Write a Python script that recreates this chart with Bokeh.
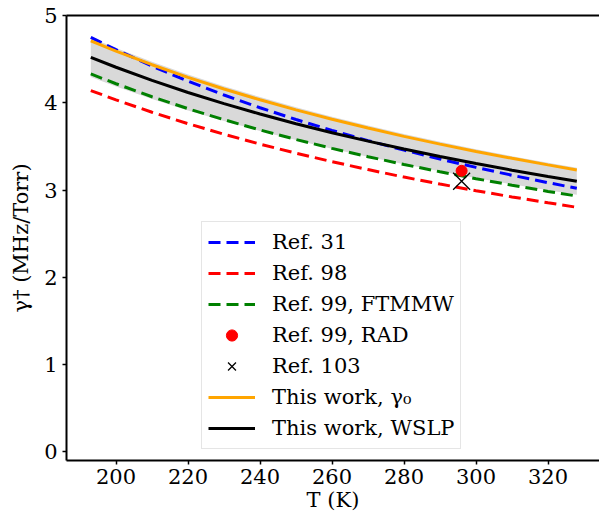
from bokeh.plotting import figure
from bokeh.models import Range1d, Legend, LegendItem, LinearAxis, FixedTicker
from bokeh.embed import file_html
from bokeh.resources import INLINE

# Temperature grid (K)
T = [193, 200, 210, 220, 230, 240, 250, 260, 270, 280, 290, 300, 310, 320, 328]

# Pressure broadening coefficients (MHz/Torr)
ref31 = [4.750, 4.608, 4.420, 4.247, 4.089, 3.943, 3.808, 3.683, 3.566, 3.457, 3.355, 3.259, 3.169, 3.084, 3.020]
ref98 = [4.140, 4.033, 3.891, 3.760, 3.639, 3.526, 3.422, 3.325, 3.234, 3.148, 3.068, 2.992, 2.921, 2.854, 2.802]
ref99_ftmmw = [4.330, 4.218, 4.069, 3.932, 3.806, 3.688, 3.579, 3.477, 3.382, 3.293, 3.209, 3.130, 3.055, 2.984, 2.931]
gamma0 = [4.710, 4.592, 4.436, 4.291, 4.158, 4.034, 3.918, 3.811, 3.710, 3.615, 3.526, 3.442, 3.363, 3.288, 3.230]
wslp = [4.520, 4.407, 4.257, 4.118, 3.990, 3.871, 3.760, 3.657, 3.560, 3.469, 3.384, 3.303, 3.227, 3.155, 3.100]
band_low = [4.294, 4.187, 4.044, 3.912, 3.791, 3.677, 3.572, 3.474, 3.382, 3.296, 3.215, 3.138, 3.066, 2.997, 2.945]
band_high = [4.746, 4.627, 4.470, 4.324, 4.190, 4.065, 3.948, 3.840, 3.738, 3.642, 3.553, 3.468, 3.388, 3.313, 3.255]

rad_T = [296]
rad_val = [3.22]
ref103_T = [296]
ref103_val = [3.10]

x_ticks = [200, 220, 240, 260, 280, 300, 320]
y_ticks = [0, 1, 2, 3, 4, 5]

FONT = "DejaVu Serif"
FS = "21px"

p = figure(width=599, height=514, x_range=Range1d(186.25, 334.3), y_range=Range1d(-0.1, 5.0),
           output_backend="svg", toolbar_location=None,
           min_border_left=66, min_border_right=0, min_border_top=15, min_border_bottom=52)
p.grid.visible = False
p.outline_line_color = None
p.background_fill_color = "white"
p.border_fill_color = "white"

for ax, ticks, label in ((p.xaxis[0], x_ticks, "T (K)"), (p.yaxis[0], y_ticks, "γ† (MHz/Torr)")):
    ax.ticker = FixedTicker(ticks=ticks)
    ax.axis_label = label
    ax.axis_label_text_font = FONT
    ax.axis_label_text_font_size = FS
    ax.axis_label_text_font_style = "normal"
    ax.axis_label_text_color = "black"
    ax.major_label_text_font = FONT
    ax.major_label_text_font_size = FS
    ax.major_label_text_color = "black"
    ax.axis_line_width = 2
    ax.axis_line_color = "black"
    ax.major_tick_line_width = 1.5
    ax.major_tick_out = 4
    ax.major_tick_in = 0
    ax.minor_tick_out = 0
    ax.minor_tick_in = 0

p.xaxis[0].major_label_standoff = 4
p.xaxis[0].axis_label_standoff = 1
p.yaxis[0].major_label_standoff = 5
p.yaxis[0].axis_label_standoff = 8

# top spine
top = LinearAxis(ticker=FixedTicker(ticks=[]), major_label_text_font_size="0px",
                 major_tick_out=0, minor_tick_out=0, axis_line_width=2, axis_line_color="black")
p.add_layout(top, "above")

p.varea(x=T, y1=band_low, y2=band_high, fill_color="#d9d9d9", fill_alpha=1.0)

r31 = p.line(T, ref31, line_color="blue", line_width=3, line_dash="12 6")
r98 = p.line(T, ref98, line_color="red", line_width=3, line_dash="12 6")
r99 = p.line(T, ref99_ftmmw, line_color="green", line_width=3, line_dash="12 6")
rrad = p.scatter(rad_T, rad_val, marker="circle", size=11, fill_color="red", line_color="red")
r103 = p.scatter(ref103_T, ref103_val, marker="x", size=24, line_color="black", line_width=1.3)
rg0 = p.line(T, gamma0, line_color="orange", line_width=3)
rws = p.line(T, wslp, line_color="black", line_width=3)

legend = Legend(items=[
    LegendItem(label="Ref. 31", renderers=[r31]),
    LegendItem(label="Ref. 98", renderers=[r98]),
    LegendItem(label="Ref. 99, FTMMW", renderers=[r99]),
    LegendItem(label="Ref. 99, RAD", renderers=[rrad]),
    LegendItem(label="Ref. 103", renderers=[r103]),
    LegendItem(label="This work, γ₀", renderers=[rg0]),
    LegendItem(label="This work, WSLP", renderers=[rws]),
], location=(135, 11))
legend.label_text_font = FONT
legend.label_text_font_size = FS
legend.label_text_color = "black"
legend.glyph_width = 47
legend.glyph_height = 28
legend.label_height = 28
legend.label_standoff = 17
legend.spacing = 3
legend.padding = 6
legend.margin = 0
legend.border_line_color = "#cccccc"
legend.border_line_width = 1
legend.background_fill_color = "white"
legend.background_fill_alpha = 0.8
p.add_layout(legend, "center")

open("out.html", "w").write(file_html(p, INLINE))
